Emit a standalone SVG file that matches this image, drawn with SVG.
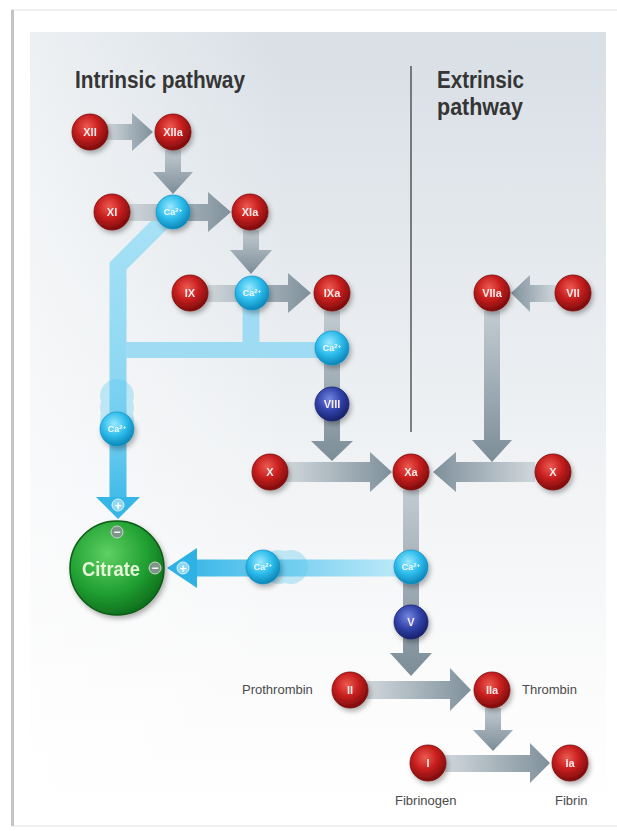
<svg xmlns="http://www.w3.org/2000/svg" width="617" height="831" viewBox="0 0 617 831">
<defs>
<style>
.lbl{font-family:"Liberation Sans",Arial,sans-serif;font-weight:bold;font-size:11px;fill:#fbeaea;text-anchor:middle}
.calbl{font-family:"Liberation Sans",Arial,sans-serif;font-weight:bold;font-size:9px;fill:#f0fbff;text-anchor:middle}
.cap{font-family:"Liberation Sans",Arial,sans-serif;font-size:13px;fill:#4a4a4a}
.hdr{font-family:"Liberation Sans",Arial,sans-serif;font-weight:bold;font-size:23px;fill:#353535}
.red{fill:url(#gRed);stroke:#7a0b0b;stroke-width:0.8}
.ca{fill:url(#gCa);stroke:#1690c2;stroke-width:0.7}
.blue{fill:url(#gBlue);stroke:#1b2370;stroke-width:0.8}
.sym{font-family:"Liberation Sans",Arial,sans-serif;font-weight:bold;font-size:12px;fill:#ffffff;text-anchor:middle}
.rib{fill:none;stroke-linejoin:miter;stroke-linecap:butt}
</style>
<linearGradient id="panel" x1="0" y1="0" x2="0" y2="1">
<stop offset="0" stop-color="#d8dfe5"/>
<stop offset="0.45" stop-color="#eceff2"/>
<stop offset="0.85" stop-color="#fcfcfc"/>
<stop offset="1" stop-color="#ffffff"/>
</linearGradient>
<linearGradient id="panelL" x1="0" y1="0" x2="1" y2="0">
<stop offset="0" stop-color="#ffffff" stop-opacity="0.55"/>
<stop offset="0.45" stop-color="#ffffff" stop-opacity="0"/>
</linearGradient>
<linearGradient id="gR" x1="0" y1="0" x2="1" y2="0">
<stop offset="0" stop-color="#d0d7dc"/>
<stop offset="1" stop-color="#7f909b"/>
</linearGradient>
<linearGradient id="gL" x1="1" y1="0" x2="0" y2="0">
<stop offset="0" stop-color="#d0d7dc"/>
<stop offset="1" stop-color="#7f909b"/>
</linearGradient>
<linearGradient id="gD" x1="0" y1="0" x2="0" y2="1">
<stop offset="0" stop-color="#c3cbd1"/>
<stop offset="1" stop-color="#7c8d98"/>
</linearGradient>
<radialGradient id="gRed" cx="0.42" cy="0.35" r="0.65">
<stop offset="0" stop-color="#ec5a50"/>
<stop offset="0.5" stop-color="#c81f1f"/>
<stop offset="1" stop-color="#7e0c0c"/>
</radialGradient>
<radialGradient id="gCa" cx="0.42" cy="0.35" r="0.65">
<stop offset="0" stop-color="#9ae9fd"/>
<stop offset="0.55" stop-color="#2dbcec"/>
<stop offset="1" stop-color="#0c86b8"/>
</radialGradient>
<radialGradient id="gBlue" cx="0.42" cy="0.35" r="0.65">
<stop offset="0" stop-color="#7587e0"/>
<stop offset="0.55" stop-color="#3142a8"/>
<stop offset="1" stop-color="#19226c"/>
</radialGradient>
<radialGradient id="gGreen" cx="0.4" cy="0.35" r="0.7">
<stop offset="0" stop-color="#5fd063"/>
<stop offset="0.6" stop-color="#21a032"/>
<stop offset="1" stop-color="#0c6a1a"/>
</radialGradient>
<linearGradient id="ribV" gradientUnits="userSpaceOnUse" x1="0" y1="212" x2="0" y2="520">
<stop offset="0" stop-color="#a9e2f6"/>
<stop offset="0.6" stop-color="#8ad6f2"/>
<stop offset="1" stop-color="#33b5e7"/>
</linearGradient>
<linearGradient id="ribH" gradientUnits="userSpaceOnUse" x1="411" y1="0" x2="168" y2="0">
<stop offset="0" stop-color="#c4ecf9"/>
<stop offset="0.5" stop-color="#7ad0f1"/>
<stop offset="1" stop-color="#2cb2e6"/>
</linearGradient>
<filter id="sh" x="-60%" y="-60%" width="220%" height="220%">
<feDropShadow dx="2" dy="3" stdDeviation="2.5" flood-color="#000" flood-opacity="0.3"/>
</filter>
</defs>

<g id="frame">
<rect x="12" y="10" width="610" height="816" fill="#ffffff" stroke="#e2e2e2" stroke-width="1"/>
<line x1="12.5" y1="10" x2="12.5" y2="826" stroke="#c4c4c4" stroke-width="3"/>
<rect x="30" y="32" width="576" height="785" fill="url(#panel)"/>
<rect x="30" y="32" width="576" height="785" fill="url(#panelL)"/>
</g>

<g id="headers">
<text class="hdr" x="75" y="88" textLength="170" lengthAdjust="spacingAndGlyphs">Intrinsic pathway</text>
<text class="hdr" x="437" y="88" textLength="87" lengthAdjust="spacingAndGlyphs">Extrinsic</text>
<text class="hdr" x="437" y="115" textLength="86" lengthAdjust="spacingAndGlyphs">pathway</text>
<line x1="411" y1="66" x2="411" y2="432" stroke="#333" stroke-width="1.2"/>
</g>

<g id="connectors">
<path class="rib" d="M 170 214 L 118 266 L 118 498" stroke="url(#ribV)" stroke-width="17"/>
<path class="rib" d="M 126 350 L 332 350" stroke="#9fdcf3" stroke-width="16"/>
<path class="rib" d="M 251 293 L 251 343" stroke="#9fdcf3" stroke-width="17"/>
<polygon points="96,497 140,497 118,519" fill="#36b6e7"/>
<path class="rib" d="M 411 568 L 196 568" stroke="url(#ribH)" stroke-width="17"/>
<polygon points="197,548 197,588 167,568" fill="#2eb2e6"/>
<polygon points="106,124 132,124 132,113 153,132 132,151 132,140 106,140" fill="url(#gR)"/>
<polygon points="165,150 165,172 153,172 173,194 193,172 181,172 181,150" fill="url(#gD)"/>
<polygon points="128,204 208,204 208,192 231,212 208,232 208,221 128,221" fill="url(#gR)"/>
<polygon points="243,230 243,250 230,250 251,274 272,250 259,250 259,230" fill="url(#gD)"/>
<polygon points="206,285 288,285 288,273 311,293 288,313 288,302 206,302" fill="url(#gR)"/>
<polygon points="324,311 324,441 311,441 332,461 353,441 340,441 340,311" fill="url(#gD)"/>
<polygon points="286,462 370,462 370,452 392,472 370,492 370,482 286,482" fill="url(#gR)"/>
<polygon points="535,462 456,462 456,452 433,472 456,492 456,482 535,482" fill="url(#gL)"/>
<polygon points="484,311 484,440 472,440 492,462 512,440 500,440 500,311" fill="url(#gD)"/>
<polygon points="556,285 530,285 530,275 511,293 530,312 530,302 556,302" fill="url(#gL)"/>
<polygon points="403,490 403,653 390,653 411,676 432,653 419,653 419,490" fill="url(#gD)"/>
<polygon points="367,681 450,681 450,668 471,690 450,711 450,699 367,699" fill="url(#gR)"/>
<polygon points="485,708 485,730 473,730 493,751 513,730 501,730 501,708" fill="url(#gD)"/>
<polygon points="445,755 530,755 530,743 550,763 530,783 530,772 445,772" fill="url(#gR)"/>
<circle cx="118" cy="505" r="6" fill="#8fd6f1" stroke="#d8f3fc" stroke-width="1"/>
<text class="sym" x="118" y="509.5">+</text>
<circle cx="183" cy="568" r="6" fill="#8fd6f1" stroke="#d8f3fc" stroke-width="1"/>
<text class="sym" x="183" y="572.5">+</text>
</g>

<g id="ghosts" opacity="0.35">
<circle cx="117" cy="396" r="17" fill="#5cc9ef"/>
<circle cx="117" cy="408" r="17" fill="#5cc9ef"/>
<circle cx="117" cy="419" r="17" fill="#5cc9ef"/>
<circle cx="291" cy="567" r="17" fill="#5cc9ef"/>
<circle cx="279" cy="567" r="17" fill="#5cc9ef"/>
</g>

<g filter="url(#sh)">
<g id="n-XII"><circle class="red" cx="90" cy="132" r="18"/><text class="lbl" x="90" y="136">XII</text></g>
<g id="n-XIIa"><circle class="red" cx="173" cy="132" r="18"/><text class="lbl" x="173" y="136">XIIa</text></g>
<g id="n-XI"><circle class="red" cx="112" cy="212" r="18"/><text class="lbl" x="112" y="216">XI</text></g>
<g id="n-Ca1"><circle class="ca" cx="173" cy="212" r="17"/><text class="calbl" x="173" y="215">Ca<tspan font-size="6" dy="-3">2+</tspan></text></g>
<g id="n-XIa"><circle class="red" cx="250" cy="212" r="18"/><text class="lbl" x="250" y="216">XIa</text></g>
<g id="n-IX"><circle class="red" cx="190" cy="293" r="18"/><text class="lbl" x="190" y="297">IX</text></g>
<g id="n-Ca2"><circle class="ca" cx="252" cy="293" r="17"/><text class="calbl" x="252" y="296">Ca<tspan font-size="6" dy="-3">2+</tspan></text></g>
<g id="n-IXa"><circle class="red" cx="332" cy="293" r="18"/><text class="lbl" x="332" y="297">IXa</text></g>
<g id="n-Ca3"><circle class="ca" cx="332" cy="348" r="17"/><text class="calbl" x="332" y="351">Ca<tspan font-size="6" dy="-3">2+</tspan></text></g>
<g id="n-VIII"><circle class="blue" cx="332" cy="404" r="17"/><text class="lbl" x="332" y="408">VIII</text></g>
<g id="n-Ca4"><circle class="ca" cx="117" cy="429" r="17"/><text class="calbl" x="117" y="432">Ca<tspan font-size="6" dy="-3">2+</tspan></text></g>
<g id="n-VIIa"><circle class="red" cx="492" cy="293" r="18"/><text class="lbl" x="492" y="297">VIIa</text></g>
<g id="n-VII"><circle class="red" cx="573" cy="293" r="18"/><text class="lbl" x="573" y="297">VII</text></g>
<g id="n-X1"><circle class="red" cx="270" cy="472" r="18"/><text class="lbl" x="270" y="476">X</text></g>
<g id="n-Xa"><circle class="red" cx="411" cy="472" r="18"/><text class="lbl" x="411" y="476">Xa</text></g>
<g id="n-X2"><circle class="red" cx="553" cy="472" r="18"/><text class="lbl" x="553" y="476">X</text></g>
<g id="n-Ca5"><circle class="ca" cx="263" cy="567" r="17"/><text class="calbl" x="263" y="570">Ca<tspan font-size="6" dy="-3">2+</tspan></text></g>
<g id="n-Ca6"><circle class="ca" cx="411" cy="567" r="17"/><text class="calbl" x="411" y="570">Ca<tspan font-size="6" dy="-3">2+</tspan></text></g>
<g id="n-V"><circle class="blue" cx="411" cy="622" r="17"/><text class="lbl" x="411" y="626">V</text></g>
<g id="n-II"><circle class="red" cx="350" cy="690" r="18"/><text class="lbl" x="350" y="694">II</text></g>
<g id="n-IIa"><circle class="red" cx="492" cy="690" r="18"/><text class="lbl" x="492" y="694">IIa</text></g>
<g id="n-I"><circle class="red" cx="428" cy="763" r="18"/><text class="lbl" x="428" y="767">I</text></g>
<g id="n-Ia"><circle class="red" cx="570" cy="763" r="18"/><text class="lbl" x="570" y="767">Ia</text></g>
<g id="n-Citrate">
<circle cx="117" cy="568" r="47" fill="url(#gGreen)" stroke="#0b5a16" stroke-width="1.5"/>
<text x="111" y="576" text-anchor="middle" font-family="'Liberation Sans',Arial,sans-serif" font-weight="bold" font-size="21" fill="#e4f6d6" textLength="58" lengthAdjust="spacingAndGlyphs">Citrate</text>
<circle cx="117" cy="532" r="6" fill="#7f958a" stroke="#c9d8cf" stroke-width="1"/>
<text class="sym" x="117" y="536">−</text>
<circle cx="155" cy="568" r="6" fill="#7f958a" stroke="#c9d8cf" stroke-width="1"/>
<text class="sym" x="155" y="572">−</text>
</g>
</g>

<g id="captions">
<text class="cap" x="242" y="694">Prothrombin</text>
<text class="cap" x="522" y="694">Thrombin</text>
<text class="cap" x="395" y="805">Fibrinogen</text>
<text class="cap" x="555" y="805">Fibrin</text>
</g>
</svg>
